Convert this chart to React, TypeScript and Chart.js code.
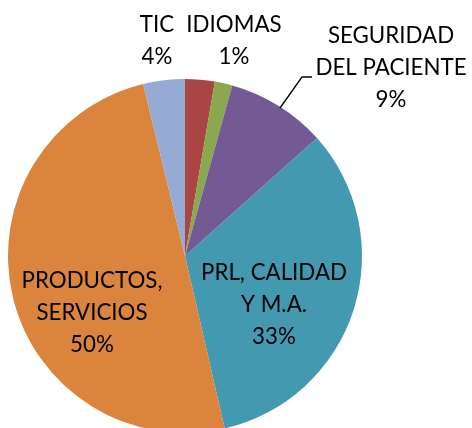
import React, { useEffect, useRef } from "react";
import { Chart, registerables } from "chart.js";

Chart.register(...registerables);

const categories = ["", "IDIOMAS", "SEGURIDAD DEL PACIENTE", "PRL, CALIDAD Y M.A.", "PRODUCTOS, SERVICIOS", "TIC"];
const values = [2.7, 1.6, 9.1, 33.0, 49.8, 3.8];
const percentLabels = ["", "1%", "9%", "33%", "50%", "4%"];
const labelLines = [
  [],
  ["IDIOMAS", percentLabels[1]],
  ["SEGURIDAD", "DEL PACIENTE", percentLabels[2]],
  ["PRL, CALIDAD", "Y M.A.", percentLabels[3]],
  ["PRODUCTOS,", "SERVICIOS", percentLabels[4]],
  ["TIC", percentLabels[5]],
];
const colors = ["#A94543", "#8AA84E", "#735A95", "#4399B0", "#DB843D", "#95ABD4"];

// label anchors relative to pie centre (dx, dy of first line centre)
const labelAnchors = [
  null,
  [49, -232],
  [206, -221],
  [89, 16],
  [-93, 24],
  [-28, -232],
];

const labelPlugin = {
  id: "sliceLabels",
  afterDraw(chart: any) {
    const ctx = chart.ctx;
    const arc = chart.getDatasetMeta(0).data[0];
    const cx = arc.x;
    const cy = arc.y;
    ctx.save();
    ctx.fillStyle = "#000";
    ctx.font = "24px Lato";
    ctx.textAlign = "center";
    ctx.textBaseline = "middle";
    const lh = 32;
    labelLines.forEach((lines, i) => {
      const a = labelAnchors[i];
      if (!a || !lines.length) return;
      lines.forEach((t, j) => {
        ctx.save();
        ctx.translate(cx + a[0], cy + a[1] + j * lh);
        ctx.scale(0.93, 1);
        ctx.fillText(t, 0, 0);
        ctx.restore();
      });
    });
    // leader line for SEGURIDAD DEL PACIENTE
    ctx.strokeStyle = "#000";
    ctx.lineWidth = 1.3;
    ctx.beginPath();
    ctx.moveTo(cx + 127, cy - 179);
    ctx.lineTo(cx + 117, cy - 179);
    ctx.lineTo(cx + 95, cy - 148);
    ctx.stroke();
    ctx.restore();
  },
};

export default function App() {
  const ref = useRef<HTMLCanvasElement>(null);
  useEffect(() => {
    if (!ref.current) return;
    const chart = new Chart(ref.current, {
      type: "pie",
      data: {
        labels: categories,
        datasets: [
          {
            data: values,
            backgroundColor: colors,
            borderWidth: 0,
          },
        ],
      },
      options: {
        responsive: false,
        animation: false,
        layout: { padding: { left: 8, right: 110, top: 79, bottom: 7 } },
        plugins: {
          legend: { display: false },
          tooltip: { enabled: false },
        },
      },
      plugins: [labelPlugin],
    });
    return () => chart.destroy();
  }, []);
  return (
    <div style={{ position: "fixed", left: 0, top: 0, width: 472, height: 440, background: "#fff" }}>
      <canvas ref={ref} width={472} height={440} style={{ width: 472, height: 440 }} />
    </div>
  );
}
